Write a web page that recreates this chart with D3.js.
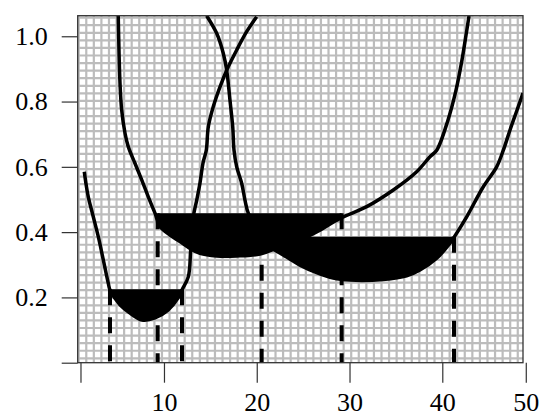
<!DOCTYPE html>
<html>
<head>
<meta charset="utf-8">
<script src="https://cdn.jsdelivr.net/npm/d3@7"></script>
<style>
  body { margin: 0; background: #fff; }
  svg text { font-family: 'Liberation Serif', 'Times New Roman', serif; }
</style>
</head>
<body>
<div id="viz"></div>
<script>
const curveAX = [1.41, 1.59, 1.84, 2.38, 2.92, 3.46, 4.00, 4.18, 5.26, 6.34, 7.63, 9.03, 10.43, 11.51, 11.94, 12.62, 12.88, 13.16, 13.53, 13.88, 14.21, 14.56, 14.78, 15.31, 16.04, 16.76, 17.84, 18.91, 19.99];
const curveAY = [0.585, 0.549, 0.508, 0.447, 0.386, 0.315, 0.243, 0.223, 0.177, 0.152, 0.131, 0.137, 0.161, 0.198, 0.223, 0.263, 0.345, 0.447, 0.498, 0.550, 0.612, 0.651, 0.723, 0.784, 0.845, 0.896, 0.958, 1.014, 1.060];

const curveBX = [5.07, 5.15, 5.26, 5.44, 5.80, 6.15, 6.87, 7.60, 8.31, 9.03, 9.57, 10.65, 11.72, 12.80, 13.88, 15.68, 17.84, 20.35, 22.50, 24.66, 26.81, 28.97, 31.85, 34.72, 37.24, 38.67, 39.40, 40.61, 41.48, 42.12, 42.56, 42.88];
const curveBY = [1.063, 0.957, 0.856, 0.774, 0.703, 0.662, 0.611, 0.560, 0.508, 0.458, 0.417, 0.391, 0.371, 0.350, 0.335, 0.327, 0.327, 0.333, 0.354, 0.376, 0.406, 0.442, 0.478, 0.529, 0.585, 0.631, 0.651, 0.743, 0.835, 0.927, 1.004, 1.062];

const curveCX = [14.60, 15.68, 16.39, 16.76, 17.11, 17.41, 17.55, 17.84, 18.38, 18.73, 19.09, 20.13, 21.24, 22.86, 24.66, 26.46, 28.25, 30.05, 33.64, 36.16, 37.59, 39.40, 40.83, 41.26, 42.63, 44.42, 45.86, 46.58, 47.30, 48.06, 48.70];
const curveCY = [1.063, 1.009, 0.948, 0.896, 0.805, 0.723, 0.651, 0.600, 0.549, 0.498, 0.458, 0.406, 0.360, 0.330, 0.299, 0.276, 0.259, 0.253, 0.255, 0.266, 0.284, 0.320, 0.366, 0.384, 0.447, 0.539, 0.600, 0.651, 0.713, 0.774, 0.826];

const thresholds = [0.225, 0.458, 0.386];
const lowerBounds = [4.18, 9.32, 20.53];
const upperBounds = [11.94, 29.15, 41.26];

const xTicks = [1, 10, 20, 30, 40, 49];
const xTickLabels = ['', '10', '20', '30', '40', '50'];
const yTicks = [0, 0.2, 0.4, 0.6, 0.8, 1.0];
const yTickLabels = ['', '0.2', '0.4', '0.6', '0.8', '1.0'];

const width = 540;
const height = 417;
const plotLeft = 77.7;
const plotTop = 15.7;
const plotRight = 523;
const plotBottom = 362.7;

const svg = d3.select('#viz')
  .append('svg')
  .attr('width', width)
  .attr('height', height);

const x = d3.scaleLinear().domain([0.7, 48.7]).range([plotLeft, plotRight]);
const y = d3.scaleLinear().domain([0, 1.063]).range([plotBottom, plotTop]);

svg.append('clipPath')
  .attr('id', 'plot')
  .append('rect')
  .attr('x', plotLeft)
  .attr('y', plotTop)
  .attr('width', plotRight - plotLeft)
  .attr('height', plotBottom - plotTop);

svg.append('rect')
  .attr('x', plotLeft)
  .attr('y', plotTop)
  .attr('width', plotRight - plotLeft)
  .attr('height', plotBottom - plotTop)
  .attr('fill', '#fff');

// background hatch grid
const grid = svg.append('g')
  .attr('clip-path', 'url(#plot)')
  .attr('stroke', '#bcbcbc')
  .attr('stroke-width', 2.2);

grid.selectAll('.gv')
  .data(d3.range(plotLeft + 1, plotRight, 7.57))
  .enter()
  .append('line')
  .attr('x1', d => d)
  .attr('x2', d => d)
  .attr('y1', plotTop)
  .attr('y2', plotBottom);

grid.selectAll('.gh')
  .data(d3.range(plotBottom - 4.4, plotTop, -7.57))
  .enter()
  .append('line')
  .attr('x1', plotLeft)
  .attr('x2', plotRight)
  .attr('y1', d => d)
  .attr('y2', d => d);

const curves = [
  { xs: curveAX, ys: curveAY },
  { xs: curveBX, ys: curveBY },
  { xs: curveCX, ys: curveCY },
];

const interp = (xs, ys, v) => {
  const i = d3.bisectLeft(xs, v);
  if (i <= 0) return ys[0];
  if (i >= xs.length) return ys[ys.length - 1];
  const t = (v - xs[i - 1]) / (xs[i] - xs[i - 1]);
  return ys[i - 1] + t * (ys[i] - ys[i - 1]);
};

const plot = svg.append('g').attr('clip-path', 'url(#plot)');

const area = d3.area()
  .x(d => x(d[0]))
  .y0(d => y(d[2]))
  .y1(d => y(Math.min(d[1], d[2])))
  .curve(d3.curveCatmullRom);

curves.forEach((c, i) => {
  const lo = lowerBounds[i];
  const hi = upperBounds[i];
  const t = thresholds[i];
  const pts = [[lo, interp(c.xs, c.ys, lo), t]];
  c.xs.forEach((v, j) => {
    if (v > lo && v < hi) pts.push([v, c.ys[j], t]);
  });
  pts.push([hi, interp(c.xs, c.ys, hi), t]);

  plot.append('path')
    .attr('d', area(pts))
    .attr('fill', '#000');
});

curves.forEach((c, i) => {
  [lowerBounds[i], upperBounds[i]].forEach((b) => {
    plot.append('line')
      .attr('x1', x(b))
      .attr('x2', x(b))
      .attr('y1', y(thresholds[i]))
      .attr('y2', y(0))
      .attr('stroke', '#000')
      .attr('stroke-width', 4)
      .attr('stroke-dasharray', '16,12');
  });
});

const line = d3.line()
  .x(d => x(d[0]))
  .y(d => y(d[1]))
  .curve(d3.curveCatmullRom);

curves.forEach((c) => {
  plot.append('path')
    .attr('d', line(c.xs.map((v, j) => [v, c.ys[j]])))
    .attr('fill', 'none')
    .attr('stroke', '#000')
    .attr('stroke-width', 3.5)
    .attr('stroke-linejoin', 'round');
});

svg.append('rect')
  .attr('x', plotLeft)
  .attr('y', plotTop)
  .attr('width', plotRight - plotLeft)
  .attr('height', plotBottom - plotTop)
  .attr('fill', 'none')
  .attr('stroke', '#333')
  .attr('stroke-width', 1.3);

const yAxis = svg.append('g')
  .attr('transform', `translate(${plotLeft}, 0)`)
  .call(d3.axisLeft(y)
    .tickValues(yTicks)
    .tickFormat((d, i) => yTickLabels[i])
    .tickSize(16)
    .tickPadding(14));

const xAxis = svg.append('g')
  .attr('transform', `translate(0, ${plotBottom})`)
  .call(d3.axisBottom(x)
    .tickValues(xTicks)
    .tickFormat((d, i) => xTickLabels[i])
    .tickSize(20)
    .tickPadding(10));

[yAxis, xAxis].forEach((g) => {
  g.attr('font-family', "'Liberation Serif', 'Times New Roman', serif");
  g.select('.domain').remove();
  g.selectAll('.tick line').attr('stroke', '#333').attr('stroke-width', 1.2);
  g.selectAll('.tick text')
    .attr('fill', '#000')
    .style('font-size', '26px')
    .style('font-family', "'Liberation Serif', 'Times New Roman', serif");
});
</script>
</body>
</html>
